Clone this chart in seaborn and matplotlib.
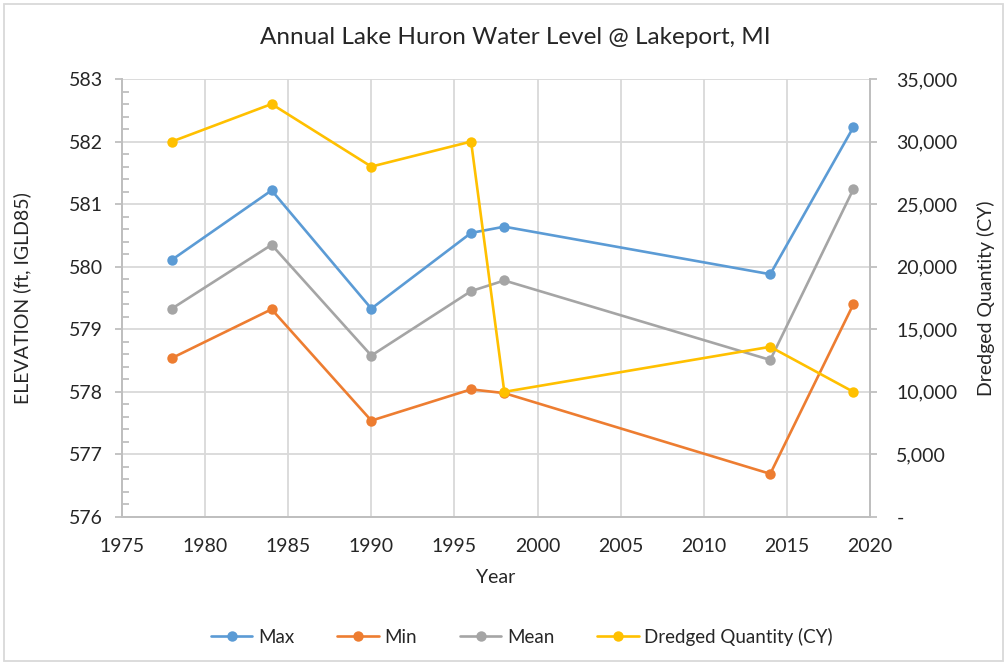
import matplotlib
matplotlib.use("Agg")
import matplotlib.pyplot as plt
from matplotlib.ticker import MultipleLocator, FuncFormatter
from matplotlib.patches import Rectangle
import seaborn as sns
import pandas as pd

# data
years = [1978, 1984, 1990, 1996, 1998, 2014, 2019]
max_level = [580.11, 581.22, 579.33, 580.54, 580.64, 579.88, 582.23]
min_level = [578.54, 579.32, 577.54, 578.04, 577.98, 576.69, 579.40]
mean_level = [579.33, 580.35, 578.58, 579.61, 579.78, 578.51, 581.24]
dredged = [30000, 33000, 28000, 30000, 10000, 13600, 10000]

df = pd.DataFrame({
    "Year": years,
    "Max": max_level,
    "Min": min_level,
    "Mean": mean_level,
    "Dredged Quantity (CY)": dredged,
})

sns.set_style("white")
plt.rcParams["font.family"] = ["Lato", "DejaVu Sans"]

colors = {"Max": "#5B9BD5", "Min": "#ED7D31", "Mean": "#A5A5A5",
          "Dredged Quantity (CY)": "#FFC000"}
grid_c = "#D9D9D9"
spine_c = "#BFBFBF"
text_c = "#262626"
fs = 14

fig = plt.figure(figsize=(10.08, 6.65), dpi=100)
fig.subplots_adjust(left=122 / 1008, right=870 / 1008,
                    top=1 - 79 / 665, bottom=1 - 517 / 665)
ax = fig.add_subplot(111)
ax2 = ax.twinx()

for col in ["Max", "Min", "Mean"]:
    sns.lineplot(data=df, x="Year", y=col, ax=ax, color=colors[col],
                 marker="o", markersize=7.5, markeredgewidth=0,
                 linewidth=1.9, label=col, legend=False)
sns.lineplot(data=df, x="Year", y="Dredged Quantity (CY)", ax=ax2,
             color=colors["Dredged Quantity (CY)"], marker="o", markersize=7.5,
             markeredgewidth=0, linewidth=1.9, label="Dredged Quantity (CY)",
             legend=False)

ax.set_xlim(1975, 2020)
ax.set_ylim(576, 583)
ax2.set_ylim(0, 35000)
ax.xaxis.set_major_locator(MultipleLocator(5))
ax.yaxis.set_major_locator(MultipleLocator(1))
ax.yaxis.set_minor_locator(MultipleLocator(0.2))
ax2.yaxis.set_major_locator(MultipleLocator(5000))
ax2.yaxis.set_major_formatter(FuncFormatter(lambda v, p: "-" if v == 0 else f"{v:,.0f}"))

ax.grid(True, which="major", color=grid_c, linewidth=1.3)
ax.set_axisbelow(True)
ax2.grid(False)

for a in (ax, ax2):
    for s in a.spines.values():
        s.set_color(spine_c)
        s.set_linewidth(1.3)
    a.spines["top"].set_visible(False)

ax.tick_params(axis="y", which="major", direction="out", length=5, width=1.3,
               color=spine_c, labelsize=fs, labelcolor=text_c, pad=9, left=True)
ax.tick_params(axis="y", which="minor", direction="in", length=5, width=1.3,
               color=spine_c, left=True)
ax.tick_params(axis="x", length=0, labelsize=fs, labelcolor=text_c, pad=15)
ax2.tick_params(axis="y", direction="out", length=5, width=1.3, color=spine_c,
                labelsize=fs, labelcolor=text_c, pad=14, right=True)

ax.set_xlabel("Year", fontsize=fs, color=text_c)
ax.set_ylabel("ELEVATION (ft, IGLD85)", fontsize=fs, color=text_c)
ax2.set_ylabel("Dredged Quantity (CY)", fontsize=fs, color=text_c)
ax.xaxis.set_label_coords(0.5, -0.118)
ax.yaxis.set_label_coords(-0.122, 0.5)
ax2.yaxis.set_label_coords(1.143, 0.5)

fig.text(515 / 1008, 1 - 38 / 665, "Annual Lake Huron Water Level @ Lakeport, MI",
         ha="center", va="center", fontsize=17.5, color=text_c)

h1, l1 = ax.get_legend_handles_labels()
h2, l2 = ax2.get_legend_handles_labels()
fig.legend(h1 + h2, l1 + l2, loc="center", bbox_to_anchor=(522 / 1008, 1 - 637 / 665),
           ncol=4, frameon=False, fontsize=13.5, handlelength=2.2,
           columnspacing=2.3, handletextpad=0.3, labelcolor=text_c)

fig.patches.append(Rectangle((4 / 1008, 4 / 665), 999 / 1008, 657 / 665,
                             transform=fig.transFigure, fill=False,
                             edgecolor=grid_c, linewidth=1.3))

fig.savefig("out.png", dpi=100)
